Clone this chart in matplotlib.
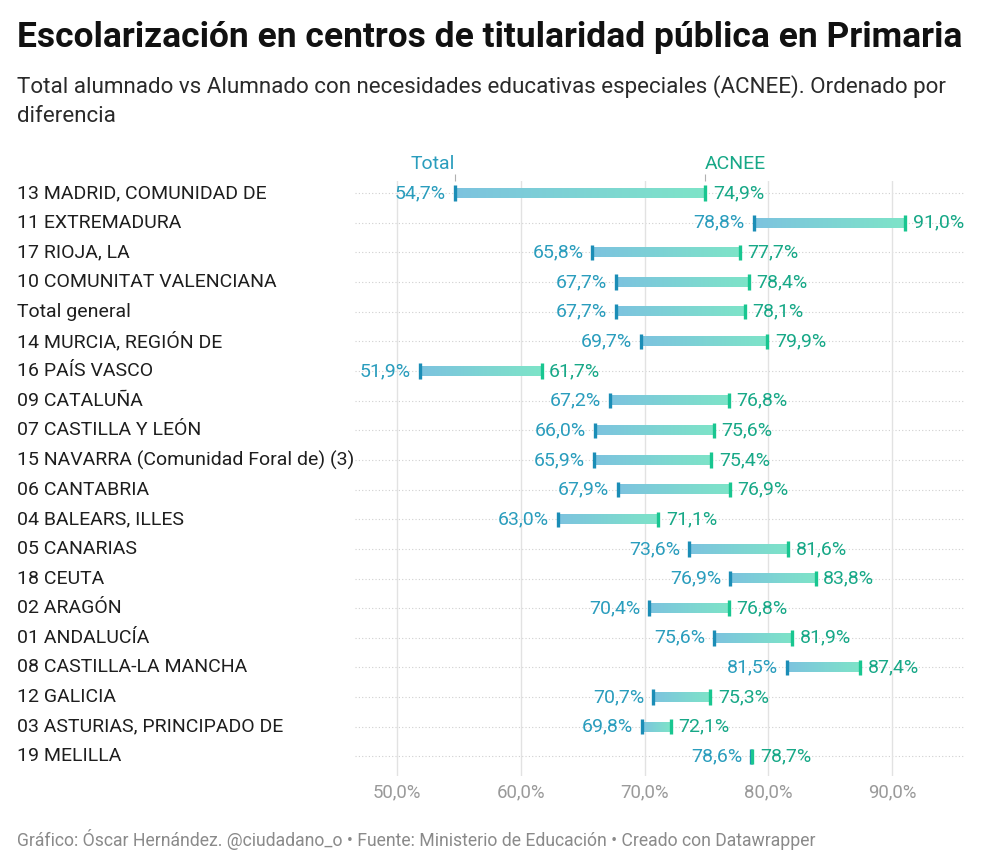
import numpy as np
import matplotlib
import matplotlib.pyplot as plt
from matplotlib.colors import LinearSegmentedColormap
from matplotlib.transforms import blended_transform_factory

plt.rcParams['font.family'] = ['Roboto', 'DejaVu Sans']

regiones = ['13 MADRID, COMUNIDAD DE', '11 EXTREMADURA', '17 RIOJA, LA',
            '10 COMUNITAT VALENCIANA', 'Total general', '14 MURCIA, REGIÓN DE',
            '16 PAÍS VASCO', '09 CATALUÑA', '07 CASTILLA Y LEÓN',
            '15 NAVARRA (Comunidad Foral de) (3)', '06 CANTABRIA', '04 BALEARS, ILLES',
            '05 CANARIAS', '18 CEUTA', '02 ARAGÓN', '01 ANDALUCÍA',
            '08 CASTILLA-LA MANCHA', '12 GALICIA', '03 ASTURIAS, PRINCIPADO DE',
            '19 MELILLA']
total = [54.7, 78.8, 65.8, 67.7, 67.7, 69.7, 51.9, 67.2, 66.0, 65.9,
         67.9, 63.0, 73.6, 76.9, 70.4, 75.6, 81.5, 70.7, 69.8, 78.6]
acnee = [74.9, 91.0, 77.7, 78.4, 78.1, 79.9, 61.7, 76.8, 75.6, 75.4,
         76.9, 71.1, 81.6, 83.8, 76.8, 81.9, 87.4, 75.3, 72.1, 78.7]
ticks = [50, 60, 70, 80, 90]

c_tot = '#1b8db6'
c_acn = '#19c690'
c_tot_txt = '#2a9dbd'
c_acn_txt = '#17a887'
cmap = LinearSegmentedColormap.from_list('g', ['#7cc3df', '#7ee4c8'])

def fmt(v):
    return f'{v:.1f}%'.replace('.', ',')

fig = plt.figure(figsize=(10, 8.68), dpi=100)
ax = fig.add_axes([0.355, 1 - 776 / 868, 0.61, (776 - 181) / 868])

n = len(regiones)
y = np.arange(n)
h = 0.32
grad = np.linspace(0, 1, 256).reshape(1, -1)

for i in range(n):
    ax.axhline(i, color='#d0d0d0', lw=0.8, ls=(0, (1, 2)), zorder=0)
    ax.imshow(grad, extent=[total[i], acnee[i], i + h / 2, i - h / 2],
              cmap=cmap, aspect='auto', interpolation='bicubic', zorder=2)
    ax.annotate(fmt(total[i]), (total[i], i), xytext=(-6.5, 0), textcoords='offset points',
                ha='right', va='center', color=c_tot_txt, fontsize=14)
    ax.annotate(fmt(acnee[i]), (acnee[i], i), xytext=(5.5, 0), textcoords='offset points',
                ha='left', va='center', color=c_acn_txt, fontsize=14)

ax.vlines(total, y - 0.26, y + 0.26, color=c_tot, lw=2.4, zorder=3)
ax.vlines(acnee, y - 0.26, y + 0.26, color=c_acn, lw=2.4, zorder=3)

for t in ticks:
    ax.axvline(t, color='#e2e2e2', lw=1, zorder=0)

ax.set_xlim(46.65, 95.85)
ax.set_ylim(n - 1 + 0.66, -0.41)
ax.set_xticks(ticks)
ax.set_xticklabels([fmt(t) for t in ticks])
ax.set_yticks([])
ax.tick_params(axis='x', length=0, pad=5, labelsize=13.4, labelcolor='#9a9a9a')
for s in ax.spines.values():
    s.set_visible(False)

# cabecera de la primera fila
ax.vlines([total[0], acnee[0]], -0.66, -0.4, color='#b0b0b0', lw=0.8, clip_on=False)
ax.text(total[0], -0.68, 'Total', ha='right', va='bottom', color=c_tot_txt, fontsize=14)
ax.text(acnee[0], -0.68, 'ACNEE', ha='left', va='bottom', color=c_acn_txt, fontsize=14)

tr = blended_transform_factory(fig.transFigure, ax.transData)
for i, r in enumerate(regiones):
    ax.text(0.017, i, r, transform=tr, ha='left', va='center', fontsize=14, color='#1e1e1e')

fig.text(0.017, 1 - 38 / 868, 'Escolarización en centros de titularidad pública en Primaria',
         fontsize=25.5, fontweight='bold', color='#111111', va='center')
fig.text(0.017, 1 - 101 / 868,
         'Total alumnado vs Alumnado con necesidades educativas especiales (ACNEE). Ordenado por\ndiferencia',
         fontsize=16.1, color='#2a2a2a', va='center', linespacing=1.45)
fig.text(0.017, 1 - 840 / 868,
         'Gráfico: Óscar Hernández. @ciudadano_o • Fuente: Ministerio de Educación • Creado con Datawrapper',
         fontsize=12.7, color='#8a8a8a', va='center')

plt.savefig('out.png', dpi=100)
